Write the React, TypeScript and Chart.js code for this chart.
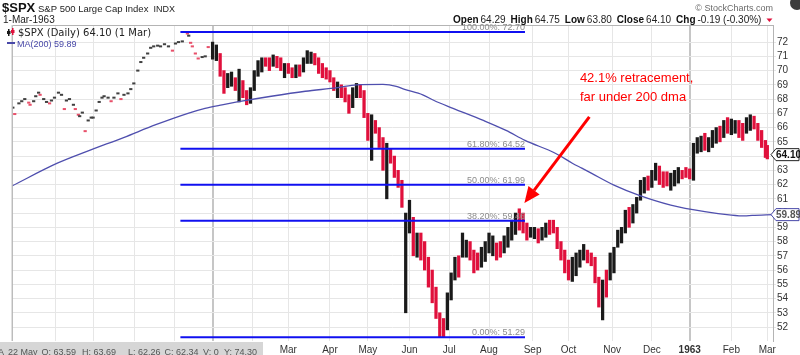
import React, { useEffect, useRef } from 'react';
import { Chart, registerables } from 'chart.js';

Chart.register(...registerables);

// ---------- data ----------
// x axis: trading-day index, 0 = 1 Aug 1961
const monthDays = [0, 23, 43, 65, 86, 106, 127, 146, 168, 188, 210, 231, 252, 275, 294, 317, 338, 358, 380, 399];
const monthLabels = ['Aug', 'Sep', 'Oct', 'Nov', 'Dec', '1962', 'Feb', 'Mar', 'Apr', 'May', 'Jun', 'Jul', 'Aug', 'Sep', 'Oct', 'Nov', 'Dec', '1963', 'Feb', 'Mar'];
const yearDays = [106, 358];
const priceTicks = [52, 53, 54, 55, 56, 57, 58, 59, 60, 61, 62, 63, 64, 65, 66, 67, 68, 69, 70, 71, 72];

// lookback closes shown as dots (before the daily bars)
const dotDays = [0.5, 1.5, 3.7, 5.2, 6.8, 8.9, 9.6, 11.5, 12.6, 14.1, 14.9, 16.8, 18.3, 19.9, 20.9, 22.5, 24.6, 26.2, 27.7, 28.8, 30.4, 32.5, 33.5, 35.1, 35.8, 37.2, 38.7, 40.3, 41.9, 42.9, 44.5, 46.1, 47.6, 48.7, 50.8, 52.4, 53.9, 56, 57.6, 59.2, 61.3, 62.8, 64.4, 66.5, 68.1, 69.6, 71.7, 73.3, 74.9, 77, 78.5, 80.6, 82.7, 84.8, 86.4, 88, 90, 92.7, 93.4, 94.4, 95.3, 96.9, 98.4, 100.5, 102.1, 103.7];
const dotValues = [67.4, 66.95, 67.7, 67.85, 68.0, 67.75, 67.6, 67.85, 68.2, 68.45, 68.3, 68.0, 67.8, 67.7, 67.9, 68.1, 68.45, 68.3, 67.3, 67.9, 68.0, 67.6, 67.3, 66.9, 66.8, 67.05, 65.75, 66.5, 66.7, 66.7, 67.2, 67.8, 68.1, 68.2, 68.1, 67.85, 68.1, 68.4, 68.0, 68.3, 68.4, 68.7, 69.1, 70.0, 70.6, 70.9, 71.2, 71.6, 71.7, 71.75, 71.7, 71.85, 71.7, 71.4, 71.9, 72.0, 72.05, 72.6, 72.45, 71.95, 71.7, 71.2, 70.85, 70.95, 71.0, 71.65];
const dotUp = [1, 0, 1, 1, 1, 0, 0, 1, 1, 1, 0, 1, 1, 0, 1, 1, 1, 1, 0, 1, 1, 1, 0, 0, 1, 1, 0, 1, 1, 1, 1, 1, 1, 1, 1, 0, 1, 1, 0, 1, 1, 1, 1, 1, 1, 1, 1, 1, 1, 1, 1, 1, 1, 0, 1, 1, 1, 0, 1, 0, 0, 0, 0, 1, 1, 0];

// daily bars (every second session), low / high / up(1) or down(0)
const barLow = [70.8, 70.7, 69.6, 68.4, 68.8, 68.9, 68.6, 67.8, 68.1, 67.6, 67.7, 68.6, 69.6, 69.9, 70.3, 70.0, 70.3, 70.2, 70.0, 69.5, 69.8, 69.5, 69.5, 69.6, 69.9, 70.5, 70.5, 70.4, 69.8, 69.5, 69.4, 69.2, 68.6, 68.1, 68.1, 67.8, 67.0, 67.4, 68.1, 68.1, 66.7, 65.1, 63.7, 65.6, 64.6, 63.0, 61.0, 63.5, 62.5, 61.8, 60.4, 53.0, 58.6, 57.0, 56.9, 56.7, 56.0, 54.8, 53.7, 52.6, 51.3, 51.29, 51.8, 53.9, 55.3, 55.5, 56.9, 56.9, 56.7, 55.8, 56.0, 56.2, 56.6, 57.2, 57.0, 56.7, 56.9, 57.2, 57.6, 58.1, 58.5, 58.8, 58.6, 58.1, 58.3, 58.2, 57.9, 58.1, 58.3, 58.5, 58.6, 57.5, 56.7, 55.8, 55.3, 55.2, 55.6, 56.2, 56.7, 56.5, 56.3, 55.1, 53.4, 52.5, 54.1, 55.3, 55.8, 57.6, 57.9, 58.6, 59.0, 59.3, 60.0, 60.9, 61.4, 61.6, 61.8, 62.3, 62.0, 61.8, 61.9, 61.6, 61.9, 62.1, 62.4, 62.5, 62.4, 62.3, 64.2, 64.3, 64.4, 64.3, 64.6, 64.9, 65.0, 65.3, 65.6, 65.5, 65.6, 65.3, 65.1, 65.6, 65.8, 65.9, 65.1, 64.6, 63.9, 63.8];
const barHigh = [72.0, 71.8, 71.2, 70.0, 69.8, 69.9, 69.5, 70.1, 69.3, 68.6, 68.8, 70.0, 70.7, 70.9, 70.9, 70.9, 71.1, 71.0, 70.9, 70.5, 70.5, 70.2, 70.4, 70.4, 70.9, 71.4, 71.3, 71.2, 70.9, 70.5, 70.2, 70.0, 69.5, 69.2, 69.0, 68.8, 68.3, 68.8, 69.1, 69.0, 68.6, 67.0, 66.9, 66.5, 66.0, 65.3, 64.9, 64.5, 64.0, 63.0, 62.3, 60.0, 60.9, 59.7, 58.6, 58.6, 58.0, 56.9, 56.0, 54.8, 53.0, 52.6, 54.4, 55.8, 56.9, 57.0, 58.6, 58.1, 58.0, 57.4, 57.2, 57.6, 58.0, 58.6, 58.4, 57.9, 58.0, 58.4, 59.0, 59.5, 60.0, 60.3, 60.0, 59.3, 59.0, 59.0, 58.9, 59.0, 59.3, 59.5, 59.5, 59.0, 58.0, 57.4, 56.7, 56.9, 57.2, 57.4, 57.8, 57.4, 57.2, 56.9, 55.5, 55.3, 56.0, 57.2, 57.6, 58.8, 59.0, 60.2, 60.4, 60.6, 61.1, 62.3, 62.5, 62.6, 63.0, 63.5, 63.3, 62.9, 62.9, 62.8, 63.0, 63.2, 63.0, 63.2, 63.1, 64.9, 65.3, 65.4, 65.6, 65.3, 65.8, 66.0, 66.1, 66.5, 66.7, 66.6, 66.5, 66.5, 66.3, 66.7, 66.9, 66.8, 66.3, 65.8, 65.1, 64.75];
const barUp = [1, 1, 0, 0, 1, 1, 0, 1, 0, 0, 1, 1, 1, 1, 0, 0, 1, 0, 0, 1, 0, 0, 1, 0, 1, 1, 1, 0, 0, 0, 0, 0, 0, 1, 0, 0, 0, 1, 1, 0, 0, 0, 1, 0, 0, 0, 1, 0, 0, 0, 0, 1, 1, 0, 1, 0, 0, 0, 0, 0, 0, 0, 1, 1, 1, 0, 1, 1, 0, 0, 0, 1, 1, 1, 1, 0, 0, 1, 1, 1, 1, 0, 0, 0, 1, 1, 0, 1, 1, 0, 0, 0, 0, 0, 0, 1, 1, 1, 1, 0, 0, 0, 0, 1, 0, 1, 1, 1, 1, 1, 0, 1, 1, 1, 1, 0, 1, 1, 0, 0, 0, 1, 1, 1, 0, 0, 0, 1, 1, 1, 0, 1, 1, 1, 0, 1, 0, 1, 1, 0, 0, 1, 1, 0, 0, 0, 0, 0];
const barFirstDay = 106;
const barStep = 2;
const barLastDay = 399;

// 200-day moving average
const maDays = [0, 24, 41, 59, 76, 93, 102, 111, 119, 137, 155, 172, 182, 196, 203, 207, 217, 223, 233, 249, 261, 271, 287, 296, 301, 306, 318, 331, 348, 366, 380, 387, 391, 402];
const maValues = [61.9, 63.5, 64.4, 65.3, 66.2, 67.0, 67.35, 67.6, 67.8, 68.2, 68.55, 68.8, 69.0, 69.03, 68.9, 68.7, 68.3, 67.9, 67.35, 66.5, 65.8, 65.1, 64.2, 63.5, 63.15, 62.8, 61.96, 61.26, 60.56, 60.1, 59.86, 59.8, 59.84, 59.89];

// Fibonacci retracement
const fibStartDay = 89;
const fibEndDay = 271;
const fibValues = [72.7, 64.52, 61.99, 59.46, 51.29];
const fibPcts = ['100.00%', '61.80%', '50.00%', '38.20%', '0.00%'];

const lastClose = 64.1;
const lastMA = 59.89;

const quoteItems: [string, string][] = [['Open', '64.29'], ['High', '64.75'], ['Low', '63.80'], ['Close', '64.10'], ['Chg', '-0.19 (-0.30%)']];
const hoverItems = ['A', '22 May', 'O: 63.59', 'H: 63.69', 'L: 62.26', 'C: 62.34', 'V: 0', 'Y: 74.30'];

const SANS = '"Liberation Sans", Arial, sans-serif';
const VERD = '"DejaVu Sans", Verdana, sans-serif';
const RED = '#e0103c';
const BLK = '#1a1a1a';

const barDays = barLow.map((_, i) => (i < barLow.length - 1 ? barFirstDay + barStep * i : barLastDay));

function priceBox(ctx: CanvasRenderingContext2D, yPx: number, text: string, stroke: string, color: string) {
  const l = 771, r = 799, h = 12;
  ctx.beginPath();
  ctx.moveTo(l, yPx);
  ctx.lineTo(l + 5, yPx - h / 2);
  ctx.lineTo(r, yPx - h / 2);
  ctx.lineTo(r, yPx + h / 2);
  ctx.lineTo(l + 5, yPx + h / 2);
  ctx.closePath();
  ctx.fillStyle = '#ffffff';
  ctx.fill();
  ctx.strokeStyle = stroke;
  ctx.lineWidth = 1;
  ctx.stroke();
  ctx.fillStyle = color;
  ctx.font = `bold 10px ${SANS}`;
  ctx.textAlign = 'left';
  ctx.textBaseline = 'middle';
  ctx.fillText(text, l + 5, yPx + 0.5);
}

const decorPlugin = {
  id: 'decor',
  afterDraw(chart: any) {
    const { ctx, chartArea } = chart;
    const xs = chart.scales.x;
    const ys = chart.scales.y;
    ctx.save();

    // plot frame (left + top)
    ctx.strokeStyle = '#b4b4b4';
    ctx.lineWidth = 1;
    ctx.beginPath();
    ctx.moveTo(chartArea.left + 0.5, chartArea.bottom);
    ctx.lineTo(chartArea.left + 0.5, chartArea.top + 0.5);
    ctx.lineTo(chartArea.right, chartArea.top + 0.5);
    ctx.stroke();

    // fib labels
    ctx.font = `9px ${SANS}`;
    ctx.fillStyle = '#8c8c8c';
    ctx.textAlign = 'right';
    ctx.textBaseline = 'alphabetic';
    fibValues.forEach((v, i) => {
      ctx.fillText(`${fibPcts[i]}: ${v.toFixed(2)}`, xs.getPixelForValue(fibEndDay), ys.getPixelForValue(v) - 2);
    });

    // header
    ctx.textAlign = 'left';
    ctx.fillStyle = '#111';
    ctx.font = `bold 13px ${SANS}`;
    ctx.fillText('$SPX', 2, 12);
    ctx.font = `9.5px ${SANS}`;
    ctx.fillStyle = '#222';
    const title = 'S&P 500 Large Cap Index';
    ctx.fillText(title, 38, 12);
    const tw = ctx.measureText(title).width;
    ctx.font = `9px ${SANS}`;
    ctx.fillText('INDX', 38 + tw + 5, 12);
    ctx.font = `10px ${SANS}`;
    ctx.fillText('1-Mar-1963', 3, 23);

    ctx.font = `9px ${SANS}`;
    ctx.fillStyle = '#6a6a6a';
    ctx.textAlign = 'right';
    ctx.fillText('\u00a9 StockCharts.com', 773, 11);

    ctx.fillStyle = '#3c3c3c';
    ctx.beginPath();
    ctx.arc(797, 3, 7, 0, Math.PI * 2);
    ctx.fill();

    // quote line
    ctx.textAlign = 'left';
    let qx = 453;
    quoteItems.forEach(([lab, val]) => {
      ctx.font = `bold 10px ${SANS}`;
      ctx.fillStyle = '#111';
      ctx.fillText(lab, qx, 23);
      qx += ctx.measureText(lab).width + 2;
      ctx.font = `10px ${SANS}`;
      ctx.fillStyle = '#222';
      ctx.fillText(val, qx, 23);
      qx += ctx.measureText(val).width + 5;
    });
    ctx.fillStyle = RED;
    ctx.beginPath();
    ctx.moveTo(qx, 18.5);
    ctx.lineTo(qx + 6, 18.5);
    ctx.lineTo(qx + 3, 22);
    ctx.closePath();
    ctx.fill();

    // in-chart legend
    ctx.fillStyle = BLK;
    ctx.fillRect(8, 29, 1.5, 7);
    ctx.fillRect(7, 31, 3.5, 3);
    ctx.fillStyle = RED;
    ctx.fillRect(12, 28, 1.5, 7);
    ctx.fillRect(11, 30, 3.5, 3);
    ctx.font = `10px ${VERD}`;
    ctx.fillStyle = '#222';
    ctx.fillText('$SPX (Daily) 64.10 (1 Mar)', 18, 35.5);
    ctx.strokeStyle = '#4848a8';
    ctx.lineWidth = 2;
    ctx.beginPath();
    ctx.moveTo(7, 43);
    ctx.lineTo(15, 43);
    ctx.stroke();
    ctx.font = `9px ${SANS}`;
    ctx.fillStyle = '#4848a8';
    ctx.fillText('MA(200) 59.89', 17, 46.5);

    // annotation
    ctx.fillStyle = '#ff0000';
    ctx.font = `13px ${SANS}`;
    const ax = xs.getPixelForValue(300);
    ctx.fillText('42.1% retracement,', ax, ys.getPixelForValue(69.19));
    ctx.fillText('far under 200 dma', ax, ys.getPixelForValue(67.86));

    const x0 = xs.getPixelForValue(305), y0 = ys.getPixelForValue(66.75);
    const x1 = xs.getPixelForValue(270.7), y1 = ys.getPixelForValue(60.7);
    const ang = Math.atan2(y1 - y0, x1 - x0);
    const hl = 16, hw = 7;
    const bx = x1 - hl * Math.cos(ang), by = y1 - hl * Math.sin(ang);
    ctx.strokeStyle = '#ff0000';
    ctx.lineWidth = 3;
    ctx.beginPath();
    ctx.moveTo(x0, y0);
    ctx.lineTo(bx, by);
    ctx.stroke();
    ctx.beginPath();
    ctx.moveTo(x1, y1);
    ctx.lineTo(bx + hw * Math.sin(ang), by - hw * Math.cos(ang));
    ctx.lineTo(bx - hw * Math.sin(ang), by + hw * Math.cos(ang));
    ctx.closePath();
    ctx.fill();

    // price boxes on axis
    priceBox(ctx, ys.getPixelForValue(lastClose), lastClose.toFixed(2), '#222', '#111');
    priceBox(ctx, ys.getPixelForValue(lastMA), lastMA.toFixed(2), '#4848a8', '#555');

    // hover data strip
    ctx.fillStyle = '#d6d6d6';
    ctx.fillRect(0, 342, 263, 13);
    ctx.fillStyle = '#555';
    ctx.font = `9px ${SANS}`;
    ctx.textAlign = 'left';
    const hx = [-2, 7, 40, 82, 128, 163, 203, 224];
    let prevEnd = -10;
    hoverItems.forEach((t, i) => {
      const px = Math.max(hx[i], prevEnd + 4);
      ctx.fillText(t, px, 352.5);
      prevEnd = px + ctx.measureText(t).width;
    });

    ctx.restore();
  },
};

export default function App() {
  const ref = useRef<HTMLCanvasElement>(null);

  useEffect(() => {
    if (!ref.current) return;
    const bars = barDays.map((d, i) => ({ x: d, y: [barLow[i], barHigh[i]] }));
    const barColors = barUp.map((u) => (u ? BLK : RED));
    const dots = dotDays.map((d, i) => ({ x: d, y: dotValues[i] }));
    const dotColors = dotUp.map((u) => (u ? '#404040' : '#e8506a'));
    const ma = maDays.map((d, i) => ({ x: d, y: maValues[i] }));

    const fibSets = fibValues.map((v) => ({
      type: 'line' as const,
      data: [{ x: fibStartDay, y: v }, { x: fibEndDay, y: v }],
      borderColor: '#1010f0',
      borderWidth: 2,
      pointRadius: 0,
    }));

    const chart = new Chart(ref.current, {
      type: 'bar',
      data: {
        datasets: [
          ...fibSets,
          {
            type: 'line' as const,
            data: ma,
            borderColor: '#4f4fae',
            borderWidth: 1.3,
            pointRadius: 0,
            cubicInterpolationMode: 'monotone',
          },
          {
            type: 'bar' as const,
            data: bars as any,
            backgroundColor: barColors,
            borderWidth: 0,
            barThickness: 2.6,
          },
          {
            type: 'line' as const,
            data: dots,
            showLine: false,
            pointStyle: 'line',
            pointRadius: 1.6,
            pointBorderWidth: 2,
            pointBorderColor: dotColors,
            pointBackgroundColor: dotColors,
          },
        ] as any,
      },
      options: {
        responsive: false,
        animation: false,
        devicePixelRatio: 1,
        events: [],
        layout: { padding: { left: 5, top: 25, right: 0, bottom: 0 } },
        plugins: { legend: { display: false }, tooltip: { enabled: false } },
        scales: {
          x: {
            type: 'linear',
            min: 0,
            max: 402,
            offset: false,
            afterBuildTicks: (s: any) => {
              s.ticks = monthDays.map((v) => ({ value: v }));
            },
            afterFit: (s: any) => {
              s.height = 14;
            },
            grid: {
              offset: false,
              drawTicks: false,
              color: (c: any) => (c.tick && yearDays.includes(c.tick.value) ? '#c6c6c6' : '#e6e6e6'),
              lineWidth: (c: any) => (c.tick && yearDays.includes(c.tick.value) ? 2 : 1),
            },
            border: { display: false },
            ticks: {
              autoSkip: false,
              maxRotation: 0,
              padding: 3,
              color: '#333',
              callback: (v: any) => monthLabels[monthDays.indexOf(Number(v))] ?? '',
              font: (c: any) => ({ family: SANS, size: 10, weight: c.tick && c.tick.label === '1963' ? 'bold' : 'normal' }),
            },
          },
          y: {
            type: 'linear',
            position: 'right',
            min: 51.02,
            max: 73.2,
            afterBuildTicks: (s: any) => {
              s.ticks = priceTicks.map((v) => ({ value: v }));
            },
            afterFit: (s: any) => {
              s.width = 27;
            },
            grid: { color: '#e6e6e6', tickLength: 3 },
            border: { color: '#b4b4b4' },
            ticks: {
              padding: 1,
              color: '#333',
              font: { family: SANS, size: 10 },
              callback: (v: any) => String(v),
            },
          },
        },
      } as any,
      plugins: [decorPlugin],
    });
    return () => chart.destroy();
  }, []);

  return (
    <div style={{ position: 'fixed', left: 0, top: 0, width: 800, height: 355, background: '#fff' }}>
      <canvas ref={ref} width={800} height={355} style={{ display: 'block' }} />
    </div>
  );
}
